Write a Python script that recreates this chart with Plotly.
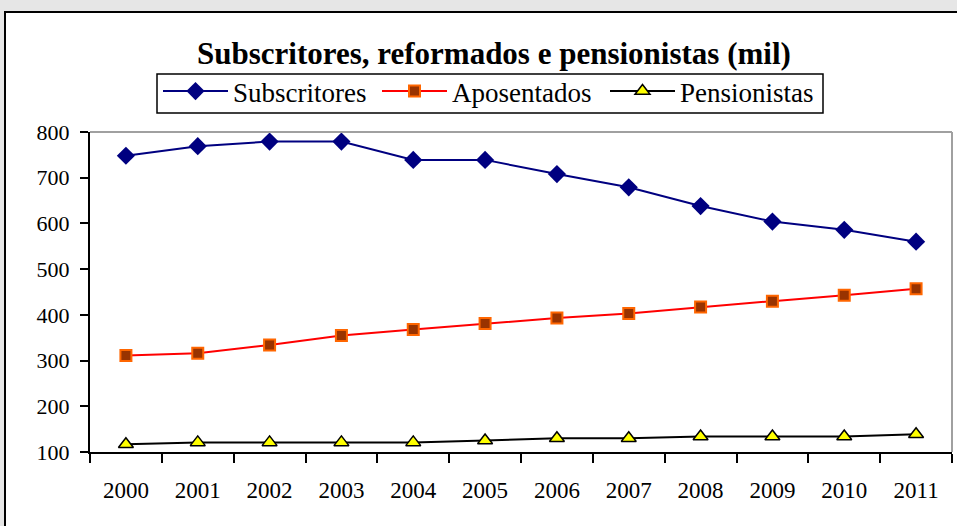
import plotly.graph_objects as go

years = ["2000", "2001", "2002", "2003", "2004", "2005", "2006", "2007", "2008", "2009", "2010", "2011"]
subscritores = [748, 769, 779, 779, 739, 739, 708, 679, 638, 604, 586, 560]
aposentados = [311, 316, 334, 355, 368, 381, 393, 403, 417, 430, 443, 457]
pensionistas = [117, 121, 121, 121, 121, 125, 130, 130, 134, 134, 134, 139]

W, H = 957, 526
L, R, T, B = 90, 5, 132, 74
pw, ph = W - L - R, H - T - B

def px(x):
    return (x - L) / pw

def py(y):
    return (H - B - y) / ph

serif = "Liberation Serif"

fig = go.Figure()
fig.add_trace(go.Scatter(
    x=years, y=subscritores, name="Subscritores", mode="lines+markers",
    line=dict(color="#000080", width=2),
    marker=dict(symbol="diamond", size=14, color="#000080"),
    legendwidth=139,
))
fig.add_trace(go.Scatter(
    x=years, y=aposentados, name="Aposentados", mode="lines+markers",
    line=dict(color="#ff0000", width=2),
    marker=dict(symbol="square", size=11, color="#993300", line=dict(color="#ff6600", width=2)),
    legendwidth=148,
))
fig.add_trace(go.Scatter(
    x=years, y=pensionistas, name="Pensionistas", mode="lines+markers",
    line=dict(color="#000000", width=2),
    marker=dict(symbol="triangle-up", size=13, color="#ffff00", line=dict(color="#000000", width=1.5)),
    legendwidth=136,
))

shapes = [
    dict(type="rect", xref="paper", yref="paper", x0=px(5), x1=px(962), y0=py(12), y1=py(535),
         fillcolor="white", line=dict(color="black", width=2), layer="below"),
    dict(type="rect", xref="paper", yref="paper", x0=px(157), x1=px(823), y0=py(74), y1=py(113),
         fillcolor="white", line=dict(color="black", width=1.5), layer="below"),
    dict(type="line", xref="paper", yref="paper", x0=0, x1=1, y0=1, y1=1,
         line=dict(color="#a0a0a0", width=2)),
    dict(type="line", xref="paper", yref="paper", x0=1, x1=1, y0=0, y1=1,
         line=dict(color="#a0a0a0", width=2)),
]

fig.update_layout(
    width=W, height=H,
    margin=dict(l=L, r=R, t=T, b=B),
    paper_bgcolor="#e6e6e6",
    plot_bgcolor="white",
    shapes=shapes,
    showlegend=True,
    legend=dict(
        orientation="h", x=px(158), xanchor="left", y=py(67), yanchor="top",
        borderwidth=0, bgcolor="rgba(0,0,0,0)",
        font=dict(family=serif, size=27, color="black"),
        itemwidth=65, tracegroupgap=0,
    ),
    annotations=[dict(
        text="<b>Subscritores, reformados e pensionistas (mil)</b>",
        xref="paper", yref="paper", x=px(494), y=py(53), xanchor="center", yanchor="middle",
        showarrow=False, font=dict(family=serif, size=31, color="black"),
    )],
    xaxis=dict(
        type="category", range=[-0.5, 11.5], tickson="boundaries",
        ticks="outside", ticklen=9, tickwidth=1.5, tickcolor="black",
        showline=True, linecolor="black", linewidth=2, showgrid=False, zeroline=False,
        tickfont=dict(family=serif, size=23, color="black"),
        ticklabelstandoff=16,
    ),
    yaxis=dict(
        range=[100, 800], dtick=100, tick0=100,
        ticks="outside", ticklen=8, tickwidth=1.5, tickcolor="black",
        showline=True, linecolor="black", linewidth=2, showgrid=False, zeroline=False,
        tickfont=dict(family=serif, size=22, color="black"),
        ticklabelstandoff=6,
    ),
)

fig.write_html("out.html", config={"displayModeBar": False},
               post_script="document.body.style.margin='0';document.body.style.background='#e6e6e6';")
